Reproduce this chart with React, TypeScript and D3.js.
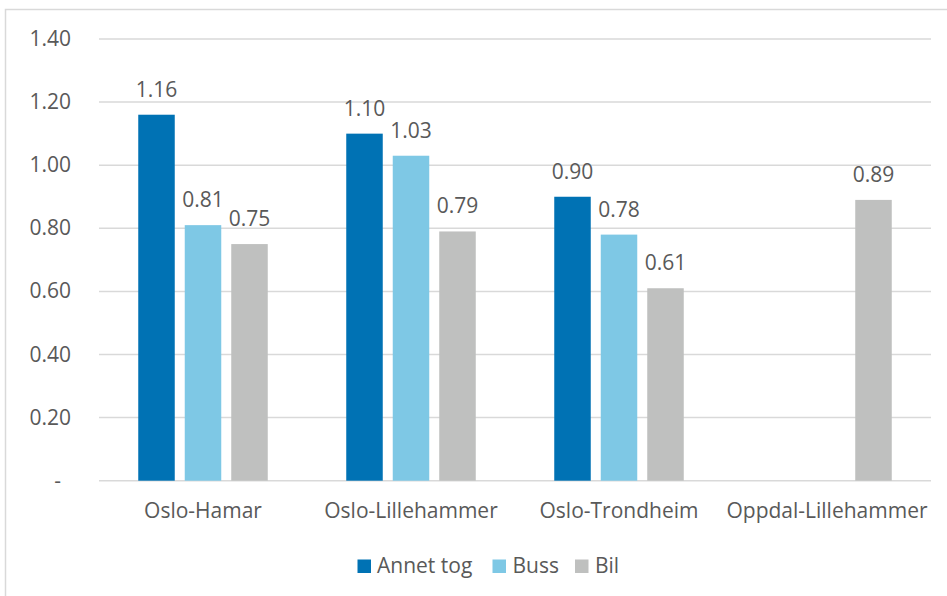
import React from "react";
import * as d3 from "d3";

const categories = ["Oslo-Hamar", "Oslo-Lillehammer", "Oslo-Trondheim", "Oppdal-Lillehammer"];
const seriesNames = ["Annet tog", "Buss", "Bil"];
const annetTog: (number | null)[] = [1.16, 1.1, 0.9, null];
const buss: (number | null)[] = [0.81, 1.03, 0.78, null];
const bil: (number | null)[] = [0.75, 0.79, 0.61, 0.89];
const yTicks = [0, 0.2, 0.4, 0.6, 0.8, 1.0, 1.2, 1.4];
const colors = ["#0072B4", "#7EC8E5", "#BFC0BF"];

const W = 947;
const H = 596;
const FONT = "'Open Sans', 'Noto Sans', sans-serif";
const TEXT = "#595959";
const FS = 21;

export default function App() {
  const seriesValues = [annetTog, buss, bil];
  const x0 = d3.scaleBand<string>().domain(categories).range([99, 931]).paddingInner(0).paddingOuter(0);
  const groupWidth = 129.5;
  const x1 = d3
    .scaleBand<string>()
    .domain(seriesNames)
    .range([-groupWidth / 2, groupWidth / 2])
    .paddingInner(10 / 46.5)
    .paddingOuter(0);
  const y = d3.scaleLinear().domain([0, 1.4]).range([480.7, 39]);
  const fmt = d3.format(".2f");

  const legendItems = [
    { name: seriesNames[0], sq: 357.5, tx: 377 },
    { name: seriesNames[1], sq: 492.5, tx: 512.5 },
    { name: seriesNames[2], sq: 575, tx: 595 },
  ];

  return (
    <div style={{ position: "fixed", left: 0, top: 0 }}>
      <svg width={W} height={H} style={{ display: "block", background: "#fff" }} fontFamily={FONT}>
        <rect x={5.5} y={9.5} width={W + 10} height={H + 10} fill="#fff" stroke="#D9D9D9" strokeWidth={1.5} />
        {yTicks.map((t) => (
          <g key={t}>
            <line x1={99} x2={931} y1={y(t)} y2={y(t)} stroke="#D9D9D9" strokeWidth={1.5} />
            <text
              x={t === 0 ? 61 : 71}
              y={y(t) + 7}
              textAnchor="end"
              fontSize={FS}
              fill={TEXT}
            >
              {t === 0 ? "-" : fmt(t)}
            </text>
          </g>
        ))}
        {categories.map((c, ci) => {
          const cx = (x0(c) as number) + x0.bandwidth() / 2;
          return (
            <g key={c}>
              {seriesNames.map((s, si) => {
                const v = seriesValues[si][ci];
                if (v == null) return null;
                const bx = cx + (x1(s) as number);
                const bw = x1.bandwidth();
                return (
                  <g key={s}>
                    <rect x={bx} y={y(v)} width={bw} height={y(0) - y(v)} fill={colors[si]} />
                    <text x={bx + bw / 2} y={y(v) - 18} textAnchor="middle" fontSize={FS} fill={TEXT}>
                      {fmt(v)}
                    </text>
                  </g>
                );
              })}
              <text x={cx} y={518} textAnchor="middle" fontSize={FS} fill={TEXT}>
                {c}
              </text>
            </g>
          );
        })}
        {legendItems.map((l, i) => (
          <g key={l.name}>
            <rect x={l.sq} y={559.5} width={13.5} height={13.5} fill={colors[i]} />
            <text x={l.tx} y={572.5} fontSize={FS} fill={TEXT}>
              {l.name}
            </text>
          </g>
        ))}
      </svg>
    </div>
  );
}
